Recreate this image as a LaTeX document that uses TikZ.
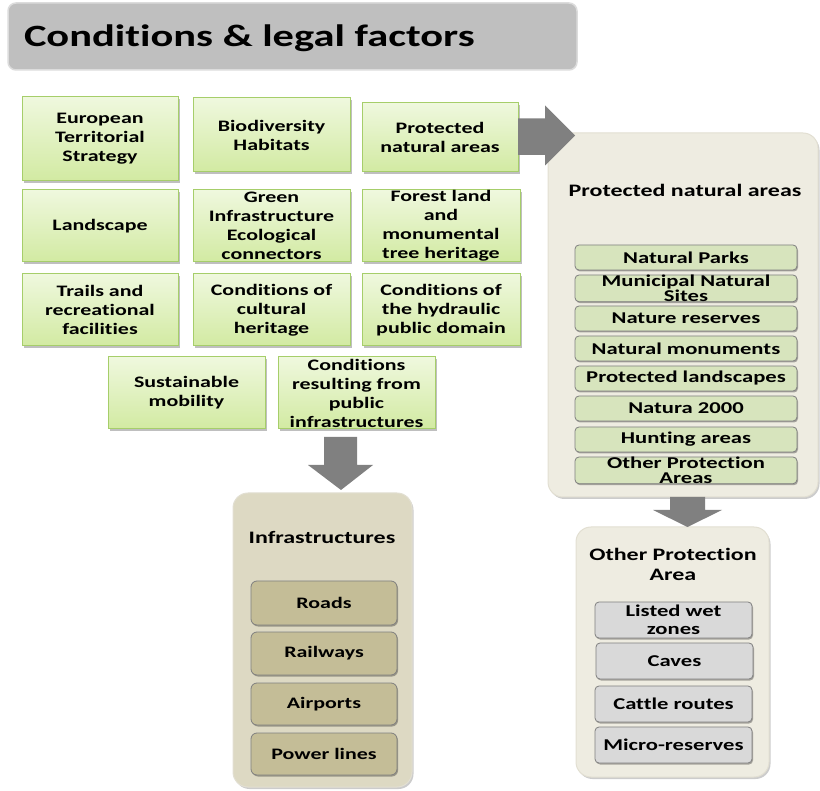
\documentclass[tikz,border=0pt]{standalone}
\usepackage{fontspec}
\setmainfont{Carlito}[FakeStretch=1.37, Ligatures=NoCommon]
\usetikzlibrary{calc,shadows}
\definecolor{titlefill}{HTML}{BFBFBF}
\definecolor{titleline}{HTML}{DCDCDC}
\definecolor{gtop}{HTML}{EFF8DE}
\definecolor{gbot}{HTML}{D2EAA2}
\definecolor{gline}{HTML}{A6CE6A}
\definecolor{contfill}{HTML}{EEECE1}
\definecolor{contline}{HTML}{E2DFD2}
\definecolor{infrafill}{HTML}{DDD9C3}
\definecolor{infraitem}{HTML}{C4BD97}
\definecolor{pnaitem}{HTML}{D7E4BD}
\definecolor{opaitem}{HTML}{D9D9D9}
\definecolor{itemline}{HTML}{7F7F7F}
\definecolor{arrowfill}{HTML}{808080}
\begin{document}
\begin{tikzpicture}[x=1pt,y=-1pt,
  every node/.style={inner sep=0pt, outer sep=0pt},
  titlebox/.style={draw=titleline, line width=1.5pt, fill=titlefill, rounded corners=8pt, anchor=north west},
  gbox/.style={draw=gline, line width=1pt, top color=gtop, bottom color=gbot, align=center, anchor=north west,
    font=\fontsize{16}{19}\selectfont\bfseries,
    drop shadow={shadow xshift=1.5pt, shadow yshift=-2pt, opacity=0.25, fill=black}},
  cont/.style={draw=contline, line width=1pt, rounded corners=15pt, anchor=north west,
    drop shadow={shadow xshift=1.5pt, shadow yshift=-2pt, opacity=0.2, fill=black}},
  conttitle/.style={align=center, font=\fontsize{17.5}{20}\selectfont\bfseries},
  itembox/.style={draw=itemline, line width=0.8pt, rounded corners=4pt, anchor=north west, align=center,
    drop shadow={shadow xshift=1pt, shadow yshift=-1.5pt, opacity=0.3, fill=black}},
  pnabox/.style={itembox, fill=pnaitem, minimum width=222pt, minimum height=25pt, font=\fontsize{16.5}{15}\selectfont\bfseries},
  infrabox/.style={itembox, fill=infraitem, rounded corners=6pt, minimum width=146pt, font=\fontsize{16}{18}\selectfont\bfseries},
  opabox/.style={itembox, fill=opaitem, minimum width=157pt, minimum height=36pt, font=\fontsize{16.5}{18}\selectfont\bfseries},
  bigarrow/.style={fill=arrowfill}
]
\useasboundingbox (0,0) rectangle (820,791);

% title
\node[titlebox, minimum width=569pt, minimum height=67pt] (title) at (8,3) {};
\node[anchor=west, font=\fontsize{31}{34}\selectfont\bfseries] (titletext) at (24,38) {Conditions \& legal factors};

% green boxes
\node[gbox, minimum width=156pt, minimum height=84pt] (b1) at (22,97) {European\\Territorial\\Strategy};
\node[gbox, minimum width=157pt, minimum height=74pt] (b2) at (193,98) {Biodiversity\\Habitats};
\node[gbox, minimum width=156pt, minimum height=69pt] (b3) at (362,103) {Protected\\natural areas};
\node[gbox, minimum width=156pt, minimum height=72pt] (b4) at (22,190) {Landscape};
\node[gbox, minimum width=157pt, minimum height=72pt] (b5) at (193,190) {Green\\Infrastructure\\Ecological\\connectors};
\node[gbox, minimum width=158pt, minimum height=72pt] (b6) at (362,190) {Forest land\\and\\monumental\\tree heritage};
\node[gbox, minimum width=156pt, minimum height=72pt] (b7) at (22,274) {Trails and\\recreational\\facilities};
\node[gbox, minimum width=157pt, minimum height=72pt] (b8) at (193,274) {Conditions of\\cultural\\heritage};
\node[gbox, minimum width=158pt, minimum height=72pt] (b9) at (362,274) {Conditions of\\the hydraulic\\public domain};
\node[gbox, minimum width=157pt, minimum height=72pt] (b10) at (108,357) {Sustainable\\mobility};
\node[gbox, minimum width=157pt, minimum height=72pt] (b11) at (278,357) {Conditions\\resulting from\\public\\infrastructures};

% protected natural areas container
\node[cont, fill=contfill, minimum width=270pt, minimum height=364pt] (pna) at (548,133) {};
\node[conttitle] (pnatitle) at (685,190) {Protected natural areas};
\node[pnabox] (p1) at (575,245) {Natural Parks};
\node[pnabox] (p2) at (575,275) {Municipal Natural\\Sites};
\node[pnabox] (p3) at (575,306) {Nature reserves};
\node[pnabox] (p4) at (575,336) {Natural monuments};
\node[pnabox] (p5) at (575,366) {Protected landscapes};
\node[pnabox] (p6) at (575,396) {Natura 2000};
\node[pnabox] (p7) at (575,427) {Hunting areas};
\node[pnabox] (p8) at (575,457) {Other Protection\\Areas};

% infrastructures container
\node[cont, fill=infrafill, minimum width=179pt, minimum height=294pt] (infra) at (233,493) {};
\node[conttitle] (infratitle) at (322,537) {Infrastructures};
\node[infrabox, minimum height=44pt] (i1) at (251,581) {Roads};
\node[infrabox, minimum height=43pt] (i2) at (251,632) {Railways};
\node[infrabox, minimum height=42pt] (i3) at (251,683) {Airports};
\node[infrabox, minimum height=42pt] (i4) at (251,733) {Power lines};

% other protection area container
\node[cont, fill=contfill, minimum width=193pt, minimum height=250pt] (opa) at (576,527) {};
\node[conttitle] (opatitle) at (673,564) {Other Protection\\Area};
\node[opabox] (o1) at (595,602) {Listed wet\\zones};
\node[opabox] (o2) at (596,643) {Caves};
\node[opabox] (o3) at (595,686) {Cattle routes};
\node[opabox] (o4) at (595,727) {Micro-reserves};

% block arrows
\fill[bigarrow] ($(b3.east)+(0,-19)$) -- ($(b3.east)+(27,-19)$) -- ($(b3.east)+(27,-32)$)
  -- ($(b3.east)+(57,-2)$) -- ($(b3.east)+(27,28)$) -- ($(b3.east)+(27,17.5)$) -- ($(b3.east)+(0,17.5)$) -- cycle;
\fill[bigarrow] ($(b11.south)+(-32.5,8)$) -- ($(b11.south)+(0.5,8)$) -- ($(b11.south)+(0.5,36)$)
  -- ($(b11.south)+(16.5,36)$) -- ($(infra.north)+(18.5,-3)$) -- ($(b11.south)+(-48.5,36)$) -- ($(b11.south)+(-32.5,36)$) -- cycle;
\fill[bigarrow] ($(pna.south)+(-13,0)$) -- ($(pna.south)+(22,0)$) -- ($(pna.south)+(22,13)$)
  -- ($(pna.south)+(39,13)$) -- ($(opa.north)+(15,0)$) -- ($(pna.south)+(-30,13)$) -- ($(pna.south)+(-13,13)$) -- cycle;
\end{tikzpicture}
\end{document}
